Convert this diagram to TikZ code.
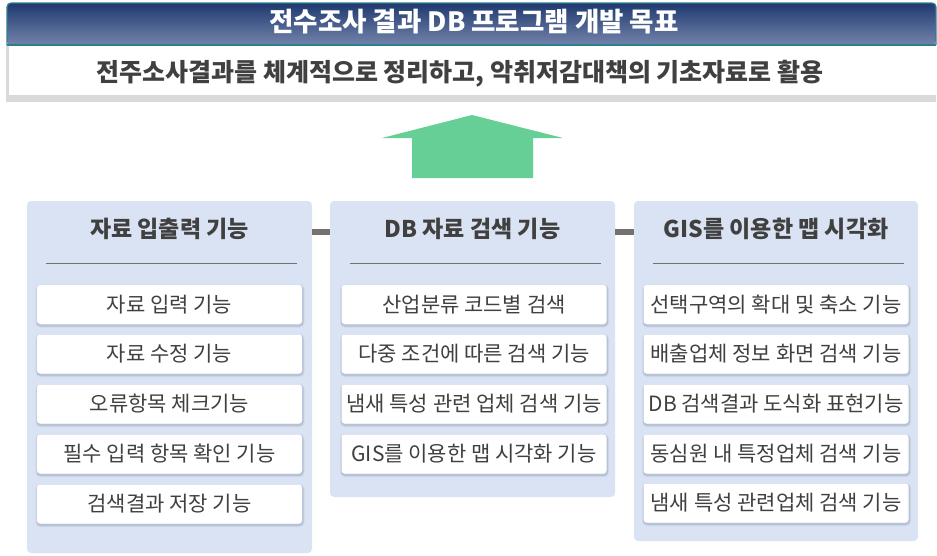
\documentclass[tikz,border=0pt]{standalone}
\usepackage{fontspec}
\setmainfont{Noto Sans CJK KR}
\usetikzlibrary{shapes.misc}
\definecolor{txt}{HTML}{404040}
\definecolor{panelc}{HTML}{DAE3F3}
\definecolor{barc}{HTML}{767171}
\definecolor{arrowc}{HTML}{66CF95}
\definecolor{navytop}{HTML}{1F3970}
\definecolor{navybot}{HTML}{7384AA}
\definecolor{tealc}{HTML}{2E7F8E}
\definecolor{shadowc}{HTML}{8290A8}
\definecolor{stripc}{HTML}{D9D9D9}
\tikzset{
  panel/.style={fill=panelc, rounded corners=4pt},
  head/.style={font=\bfseries\fontsize{23}{26}\selectfont, text=txt},
  rulel/.style={draw=barc, line width=0.8pt},
  link/.style={draw=barc, line width=6pt},
  itembox/.style={draw=none, fill=white, rounded corners=3pt, minimum width=265pt, minimum height=39pt, inner sep=0pt,
    font=\fontsize{21}{24}\selectfont, text=txt,
    preaction={draw=shadowc, line width=4pt, opacity=0.12, rounded corners=3pt, transform canvas={xshift=0.5pt,yshift=-1.5pt}},
    preaction={draw=shadowc, line width=2pt, opacity=0.3, rounded corners=3pt, transform canvas={xshift=0.5pt,yshift=-1.5pt}}},
}
\begin{document}
\begin{tikzpicture}[x=1pt,y=-1pt]
\useasboundingbox (0,0) rectangle (937,555);
% goal block
\fill[stripc] (6,45) rectangle (936,102);
\fill[white] (9,45) rectangle (936,95);
\shade[top color=navytop, bottom color=navybot, rounded corners=4pt] (7,3) rectangle (936,45);
\draw[tealc, line width=1.2pt, rounded corners=4pt] (7,45) -- (7,3) -- (936,3) -- (936,45);
\draw[tealc, line width=2pt] (7,45) -- (936,45);
\node[font=\bfseries\fontsize{26.5}{30}\selectfont, text=white] (title) at (474,22) {전수조사 결과 DB 프로그램 개발 목표};
\node[font=\bfseries\fontsize{25}{28}\selectfont, text=txt] (goal) at (460,74) {전주소사결과를 체계적으로 정리하고, 악취저감대책의 기초자료로 활용};
% arrow
\fill[arrowc] (472,115) -- (563,138) -- (533,138) -- (533,178) -- (412,178) -- (412,138) -- (382,138) -- cycle;
% panels
\path[panel] (27,201) rectangle (312,553);
\path[panel] (330,201) rectangle (615,497);
\path[panel] (634,201) rectangle (918,541);
\coordinate (p1r) at (312,231.5);
\coordinate (p2l) at (330,231.5);
\coordinate (p2r) at (615,231.5);
\coordinate (p3l) at (634,231.5);
\draw[link] (p1r) -- (p2l);
\draw[link] (p2r) -- (p3l);
\node[head] (h1) at (169.5,229) {자료 입출력 기능};
\node[head] (h2) at (472.5,229) {DB 자료 검색 기능};
\node[head] (h3) at (776,229) {GIS를 이용한 맵 시각화};
\draw[rulel] (46,263) -- (297,263);
\draw[rulel] (350,263) -- (601,263);
\draw[rulel] (653,263) -- (904,263);
% left items
\node[itembox] (a1) at (169.5,304.5) {자료 입력 기능};
\node[itembox] (a2) at (169.5,354) {자료 수정 기능};
\node[itembox] (a3) at (169.5,404) {오류항목 체크기능};
\node[itembox] (a4) at (169.5,454) {필수 입력 항목 확인 기능};
\node[itembox] (a5) at (169.5,504) {검색결과 저장 기능};
% middle items
\node[itembox] (b1) at (474,304.5) {산업분류 코드별 검색};
\node[itembox] (b2) at (474,354) {다중 조건에 따른 검색 기능};
\node[itembox] (b3) at (474,404) {냄새 특성 관련 업체 검색 기능};
\node[itembox] (b4) at (474,454) {GIS를 이용한 맵 시각화 기능};
% right items
\node[itembox] (c1) at (776,304.5) {선택구역의 확대 및 축소 기능};
\node[itembox] (c2) at (776,354) {배출업체 정보 화면 검색 기능};
\node[itembox] (c3) at (776,404) {DB 검색결과 도식화 표현기능};
\node[itembox] (c4) at (776,454) {동심원 내 특정업체 검색 기능};
\node[itembox] (c5) at (776,503) {냄새 특성 관련업체 검색 기능};
\end{tikzpicture}
\end{document}
